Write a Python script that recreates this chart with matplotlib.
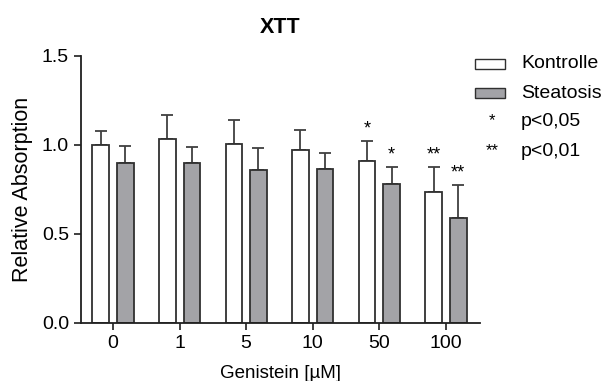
import numpy as np
import matplotlib
matplotlib.use('Agg')
import matplotlib.pyplot as plt
import matplotlib.patches as mpatches

plt.rcParams['font.family'] = ['Liberation Sans', 'DejaVu Sans']

# ── Data ──────────────────────────────────────────────────────────────────────
doses      = ['0', '1', '5', '10', '50', '100']
kontrolle  = [1.00, 1.03, 1.006, 0.969, 0.907, 0.733]
kontr_err  = [0.079, 0.135, 0.133, 0.114, 0.115, 0.143]
steatosis  = [0.899, 0.896, 0.860, 0.862, 0.779, 0.587]
steat_err  = [0.095, 0.093, 0.120, 0.090, 0.096, 0.185]
kontr_sig  = ['', '', '', '', '*', '**']
steat_sig  = ['', '', '', '', '*', '**']

fig = plt.figure(figsize=(6.03, 3.81), dpi=100)
ax = fig.add_axes([0.1338, 0.153, 0.662, 0.701])

x = np.arange(len(doses))
off, w = 0.185, 0.25
edge = '#303030'
gray = '#a3a3a7'

ax.bar(x - off, kontrolle, w, color='white', edgecolor=edge, linewidth=1.3, zorder=2)
ax.bar(x + off, steatosis, w, color=gray, edgecolor=edge, linewidth=1.3, zorder=2)
# upper-only error bars
ax.errorbar(x - off, kontrolle, yerr=[np.zeros(len(x)), kontr_err], fmt='none',
            ecolor='#404040', elinewidth=1.3, capsize=4, capthick=1.3, zorder=1)
ax.errorbar(x + off, steatosis, yerr=[np.zeros(len(x)), steat_err], fmt='none',
            ecolor='#404040', elinewidth=1.3, capsize=4, capthick=1.3, zorder=1)

for xi, v, e, s in zip(x - off, kontrolle, kontr_err, kontr_sig):
    if s:
        ax.text(xi, v + e + 0.02, s, ha='center', va='bottom', fontsize=13)
for xi, v, e, s in zip(x + off, steatosis, steat_err, steat_sig):
    if s:
        ax.text(xi, v + e + 0.02, s, ha='center', va='bottom', fontsize=13)

ax.set_xlim(-0.485, 5.51)
ax.set_ylim(0, 1.5)
ax.set_yticks([0, 0.5, 1.0, 1.5])
ax.set_yticklabels(['0.0', '0.5', '1.0', '1.5'])
ax.set_xticks(x)
ax.set_xticklabels(doses)
ax.tick_params(labelsize=14, width=1.3, length=5, color='#303030')
for sp in ['top', 'right']:
    ax.spines[sp].set_visible(False)
for sp in ['left', 'bottom']:
    ax.spines[sp].set_linewidth(1.3)
    ax.spines[sp].set_color('#202020')

ax.set_xlabel('Genistein [µM]', fontsize=13.5, labelpad=10)
ax.set_ylabel('Relative Absorption', fontsize=15.5, labelpad=6)
ax.set_title('XTT', fontsize=15.5, fontweight='bold', pad=16)

# ── Legend (drawn by hand, outside the axes) ─────────────────────────────────
W, H = 603, 381
def fx(px): return px / W
def fy(py): return 1 - py / H

for py, fc, lab in [(64, 'white', 'Kontrolle'), (93, gray, 'Steatosis')]:
    fig.patches.append(mpatches.Rectangle((fx(475), fy(py + 5)), fx(30), 10 / H,
                                          facecolor=fc, edgecolor=edge, linewidth=1.0,
                                          transform=fig.transFigure))
    fig.text(fx(521), fy(py), lab, fontsize=14, va='center', ha='left')

for py, s, lab in [(122, '*', 'p<0,05'), (152, '**', 'p<0,01')]:
    fig.text(fx(492), fy(py - 1), s, fontsize=12, va='center', ha='center')
    fig.text(fx(521), fy(py), lab, fontsize=14, va='center', ha='left')

fig.savefig('out.png', dpi=100)
